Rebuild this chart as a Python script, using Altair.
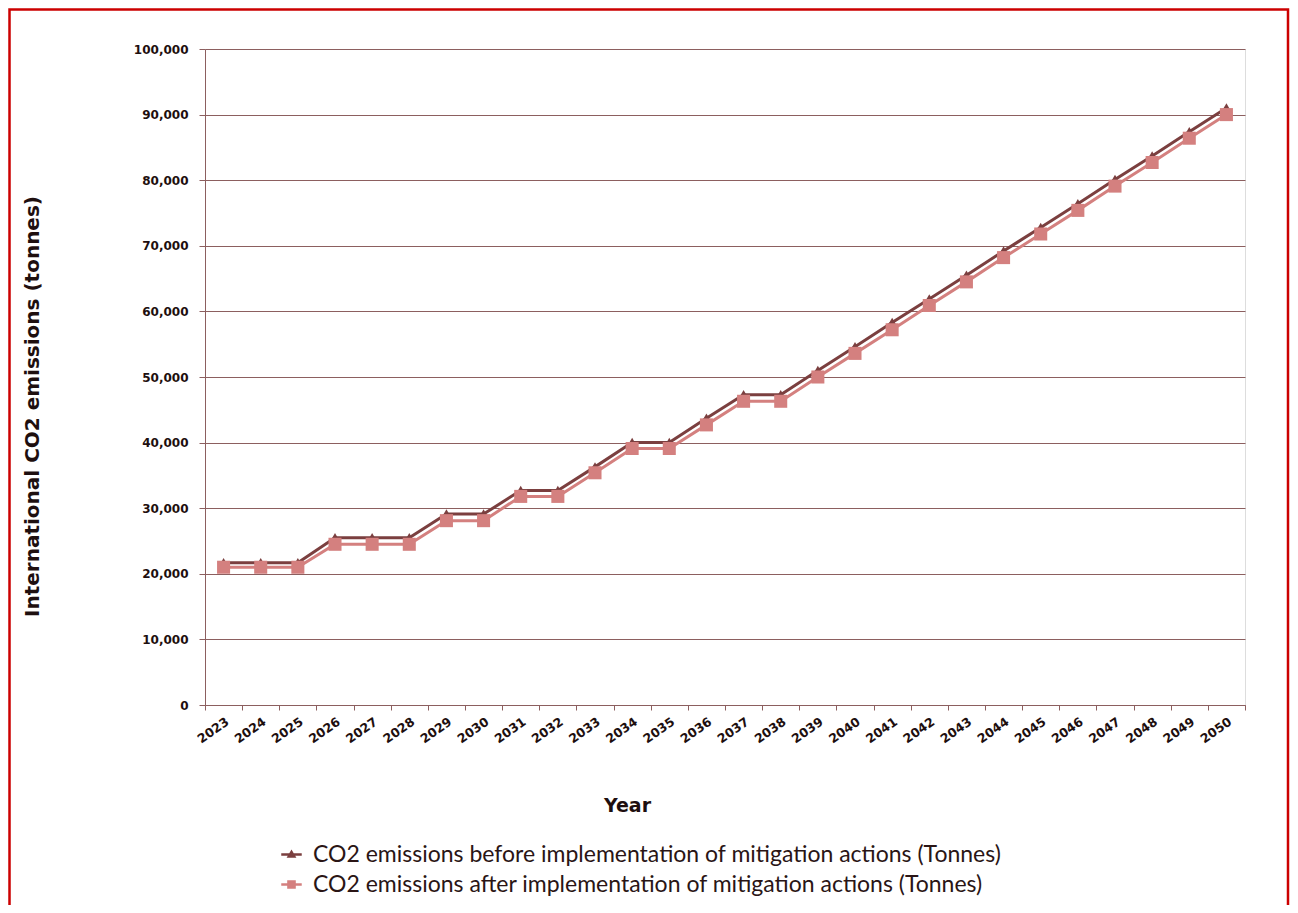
import altair as alt
import pandas as pd

years = [str(y) for y in range(2023, 2051)]
before = [21700, 21700, 21700, 25500, 25500, 25500, 29100, 29100, 32700, 32700,
          36300, 40000, 40000, 43700, 47300, 47300, 51000, 54600, 58300, 61900,
          65500, 69200, 72800, 76400, 80100, 83700, 87400, 91000]
after = [21000, 21000, 21000, 24500, 24500, 24500, 28100, 28100, 31800, 31800,
         35400, 39100, 39100, 42700, 46300, 46300, 50000, 53600, 57200, 60900,
         64500, 68200, 71800, 75400, 79100, 82700, 86400, 90000]
series_names = ["CO2 emissions before implementation of mitigation actions (Tonnes)",
                "CO2 emissions after implementation of mitigation actions (Tonnes)"]
series_colors = ["#7b3f3f", "#d4807f"]
y_ticks = [0, 10000, 20000, 30000, 40000, 50000, 60000, 70000, 80000, 90000, 100000]

df = pd.DataFrame({
    "Year": years * 2,
    "Value": before + after,
    "Series": [series_names[0]] * len(years) + [series_names[1]] * len(years),
})

LABEL_COLOR = "#1e0f0f"
AXIS_COLOR = "#8c5f5f"

x_enc = alt.X("Year:O", sort=years,
              scale=alt.Scale(paddingInner=0, paddingOuter=0),
              axis=alt.Axis(title="Year", tickBand="extent", labelAngle=-35,
                            labelAlign="right", labelBaseline="top",
                            labelFont="DejaVu Sans", labelFontWeight="bold",
                            labelFontSize=12.5, labelColor=LABEL_COLOR, labelPadding=5,
                            domainColor=AXIS_COLOR, tickColor=AXIS_COLOR, tickSize=5,
                            titleFont="DejaVu Sans", titleFontSize=19, titleFontWeight="bold",
                            titleColor=LABEL_COLOR, titleX=422, titleY=100,
                            titleBaseline="middle", titleAlign="center", grid=False))
y_enc = alt.Y("Value:Q", scale=alt.Scale(domain=[0, 100000], nice=False),
              axis=alt.Axis(title="International CO2 emissions (tonnes)", values=y_ticks,
                            format=",d", labelFont="DejaVu Sans", labelFontWeight="bold",
                            labelFontSize=12, labelColor=LABEL_COLOR, labelPadding=11,
                            domainColor=AXIS_COLOR, tickColor=AXIS_COLOR, tickSize=6,
                            grid=True, gridColor=AXIS_COLOR, gridWidth=1,
                            titleFont="DejaVu Sans", titleFontSize=20, titleFontWeight="bold",
                            titleColor=LABEL_COLOR, titleAngle=270, titleX=-173, titleY=357,
                            titleAlign="center", titleBaseline="middle"))

LINE_PATH = "M-1,-0.12L1,-0.12L1,0.12L-1,0.12Z"
TRI_PATH = LINE_PATH + " M0,-0.5L0.48,0.32L-0.48,0.32Z"
SQ_PATH = LINE_PATH + " M-0.42,-0.42L0.42,-0.42L0.42,0.42L-0.42,0.42Z"


def series_layer(idx, shape, size, legend_y, sym_path):
    name = series_names[idx]
    col = series_colors[idx]
    data = df[df["Series"] == name]
    legend = alt.Legend(title=None, orient="none", legendX=75, legendY=legend_y,
                        symbolType=sym_path, symbolSize=420, symbolFillColor=col,
                        symbolStrokeColor=col, symbolStrokeWidth=0,
                        labelFont="Lato", labelFontSize=23, labelColor="#2a1515",
                        labelOffset=10, labelLimit=900)
    color = alt.Color("Series:N", scale=alt.Scale(domain=[name], range=[col]), legend=legend)
    base = alt.Chart(data).encode(x=x_enc, y=y_enc, color=color)
    line = base.mark_line(strokeWidth=3)
    pts = base.mark_point(shape=shape, size=size, filled=True, opacity=1)
    return alt.layer(line, pts)


layer_before = series_layer(0, "triangle-up", 120, 794, TRI_PATH)
layer_after = series_layer(1, "square", 170, 824, SQ_PATH)

border = alt.Chart(pd.DataFrame({"k": [0]})).mark_rect(
    fill=None, stroke="#cc0000", strokeWidth=2.5
).encode(x=alt.value(-195.5), x2=alt.value(1083), y=alt.value(-39.5), y2=alt.value(900))

chart = alt.layer(layer_before, layer_after, border).resolve_scale(
    color="independent"
).properties(
    width=1040, height=656,
    autosize=alt.AutoSizeParams(type="none"),
    padding={"left": 197, "top": 41, "right": 45, "bottom": 200},
).configure_view(stroke=None).configure(background="white")

chart.save("out.html", embed_options={"renderer": "svg", "actions": False})
